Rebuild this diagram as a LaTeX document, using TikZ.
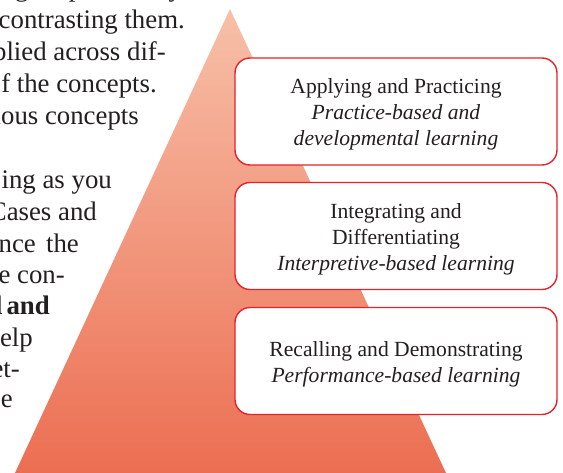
\documentclass[tikz,border=0pt]{standalone}
\usepackage{fontspec}
\setmainfont{Liberation Serif}
\definecolor{inkgray}{RGB}{35,31,32}
\definecolor{framered}{RGB}{228,34,44}
\definecolor{peaktop}{RGB}{247,192,168}
\definecolor{peakbase}{RGB}{236,110,82}
\newcommand{\bodyfont}{\fontsize{26.8}{31}\selectfont}
\newcommand{\levelfont}{\fontsize{21.6}{26}\selectfont}
\begin{document}
\begin{tikzpicture}[x=1pt,y=-1pt,
  bodyline/.style={font=\bodyfont, text=inkgray, inner sep=0pt, anchor=base east},
  levelbox/.style={draw=framered, line width=1.4pt, fill=white, rounded corners=15pt,
    minimum width=322pt, minimum height=107pt, inner sep=0pt},
  leveltext/.style={align=center, text=inkgray, font=\levelfont, inner sep=0pt}]
\useasboundingbox (0,0) rectangle (563,473);

% running paragraph text to the left of the pyramid
\node[bodyline, anchor=base west] (l0) at (1.6,-3) {ng on previously};
\node[bodyline] (l1) at (185,29) {contrasting them.};
\node[bodyline] (l2) at (166,61) {plied across dif-};
\node[bodyline] (l3) at (157,93) {f the concepts.};
\node[bodyline] (l4) at (139,125) {ious concepts};
\node[bodyline] (l6) at (112,189) {ing as you};
\node[bodyline] (l7) at (97,221) {Cases and};
\node[bodyline] (l8a) at (36,253) {nce};
\node[bodyline] (l8b) at (79,253) {the};
\node[bodyline] (l9) at (65,284) {e con-};
\node[bodyline] (l10) at (50,315) {\bfseries l\hspace{4pt}and};
\node[bodyline] (l11) at (33,347) {help};
\node[bodyline] (l12) at (20,378) {et-};
\node[bodyline] (l13) at (13,408) {e};

% pyramid with vertical colour fade
\shade[top color=peaktop, bottom color=peakbase]
  (230,9) -- (446,473) -- (15,473) -- cycle;

% the three levels: frame first, then its text set a little low
\node[levelbox] (apply) at (396,111.5) {};
\node[leveltext] (apply-t) at ([yshift=-3pt]apply.center)
  {Applying and Practicing\\ \textit{Practice-based and}\\ \textit{developmental learning}};
\node[levelbox] (integrate) at (396,236) {};
\node[leveltext] (integrate-t) at ([yshift=-3pt]integrate.center)
  {Integrating and\\ Differentiating\\ \textit{Interpretive-based learning}};
\node[levelbox] (recall) at (396,361) {};
\node[leveltext] (recall-t) at ([yshift=-3pt]recall.center)
  {Recalling and Demonstrating\\ \textit{Performance-based learning}};
\end{tikzpicture}
\end{document}
